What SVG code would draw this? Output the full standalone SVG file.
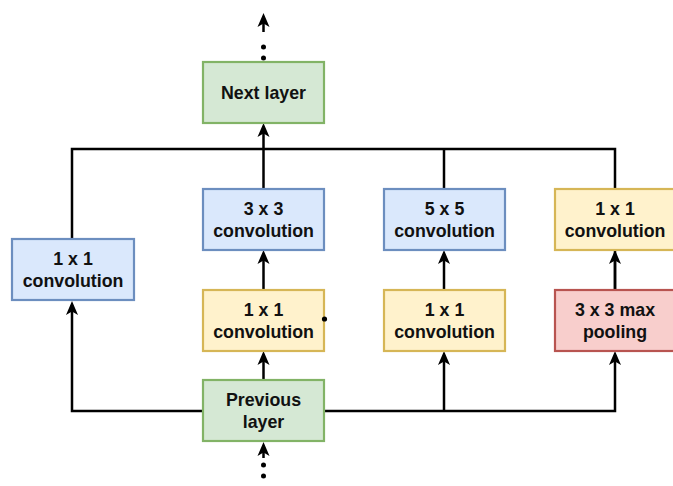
<svg xmlns="http://www.w3.org/2000/svg" width="673" height="486" viewBox="0 0 673 486">
<defs>
<marker id="arr" viewBox="0 0 14 14" markerWidth="14" markerHeight="14" refX="10" refY="7" orient="auto" markerUnits="userSpaceOnUse">
<path d="M0,1 L14,7 L0,13 L3.5,7 Z" fill="#000"/>
</marker>
<style>
.ln{fill:none;stroke:#000;stroke-width:2.5}
.dot{fill:none;stroke:#000;stroke-width:5;stroke-linecap:round;stroke-dasharray:0 11}
.box{stroke-width:2.2}
.blue{fill:#dae8fc;stroke:#6c8ebf}
.yel{fill:#fff2cc;stroke:#d6b656}
.grn{fill:#d5e8d4;stroke:#82b366}
.red{fill:#f8cecc;stroke:#b85450}
text{font-family:"Liberation Sans",Arial,Helvetica,sans-serif;font-weight:bold;font-size:17.8px;text-anchor:middle;fill:#111}
</style>
</defs>
<g id="connectors">
<path class="ln" d="M72,239 V149 H615 V290"/>
<path class="ln" d="M263.5,189 V127" marker-end="url(#arr)"/>
<path class="ln" d="M444,189 V149"/>
<path class="ln" d="M203,411 H72 V305" marker-end="url(#arr)"/>
<path class="ln" d="M324,411 H615 V355" marker-end="url(#arr)"/>
<path class="ln" d="M444,411 V355" marker-end="url(#arr)"/>
<path class="ln" d="M263.5,380 V355" marker-end="url(#arr)"/>
<path class="ln" d="M263.5,290 V254" marker-end="url(#arr)"/>
<path class="ln" d="M444,290 V254" marker-end="url(#arr)"/>
<path class="ln" d="M615,290 V254" marker-end="url(#arr)"/>
<path class="dot" d="M263.5,58 V36"/>
<path class="ln" d="M263.5,32 V17" marker-end="url(#arr)"/>
<path class="dot" d="M263.5,465 V487"/>
<path class="ln" d="M263.5,458 V446" marker-end="url(#arr)"/>
</g>
<g id="next-layer"><rect class="box grn" x="203" y="62" width="121" height="61"/><text x="263.5" y="99">Next layer</text></g>
<g id="conv1x1-left"><rect class="box blue" x="12" y="239" width="122" height="61"/><text x="73" y="265">1 x 1</text><text x="73" y="287">convolution</text></g>
<g id="conv3x3"><rect class="box blue" x="203" y="189" width="121" height="61"/><text x="263.5" y="215">3 x 3</text><text x="263.5" y="237">convolution</text></g>
<g id="conv5x5"><rect class="box blue" x="384" y="189" width="121" height="61"/><text x="444.5" y="215">5 x 5</text><text x="444.5" y="237">convolution</text></g>
<g id="conv1x1-right"><rect class="box yel" x="555" y="189" width="121" height="61"/><text x="615" y="215">1 x 1</text><text x="615" y="237">convolution</text></g>
<g id="conv1x1-mid"><rect class="box yel" x="203" y="290" width="121" height="61"/><text x="263.5" y="316">1 x 1</text><text x="263.5" y="338">convolution</text></g>
<g id="conv1x1-mid2"><rect class="box yel" x="384" y="290" width="121" height="61"/><text x="444.5" y="316">1 x 1</text><text x="444.5" y="338">convolution</text></g>
<g id="maxpool"><rect class="box red" x="555" y="290" width="121" height="61"/><text x="615" y="316">3 x 3 max</text><text x="615" y="338">pooling</text></g>
<g id="previous-layer"><rect class="box grn" x="203" y="380" width="121" height="61"/><text x="263.5" y="406">Previous</text><text x="263.5" y="428">layer</text></g>
<g id="marks"><circle cx="324.5" cy="319" r="2.6" fill="#000"/></g>
</svg>
